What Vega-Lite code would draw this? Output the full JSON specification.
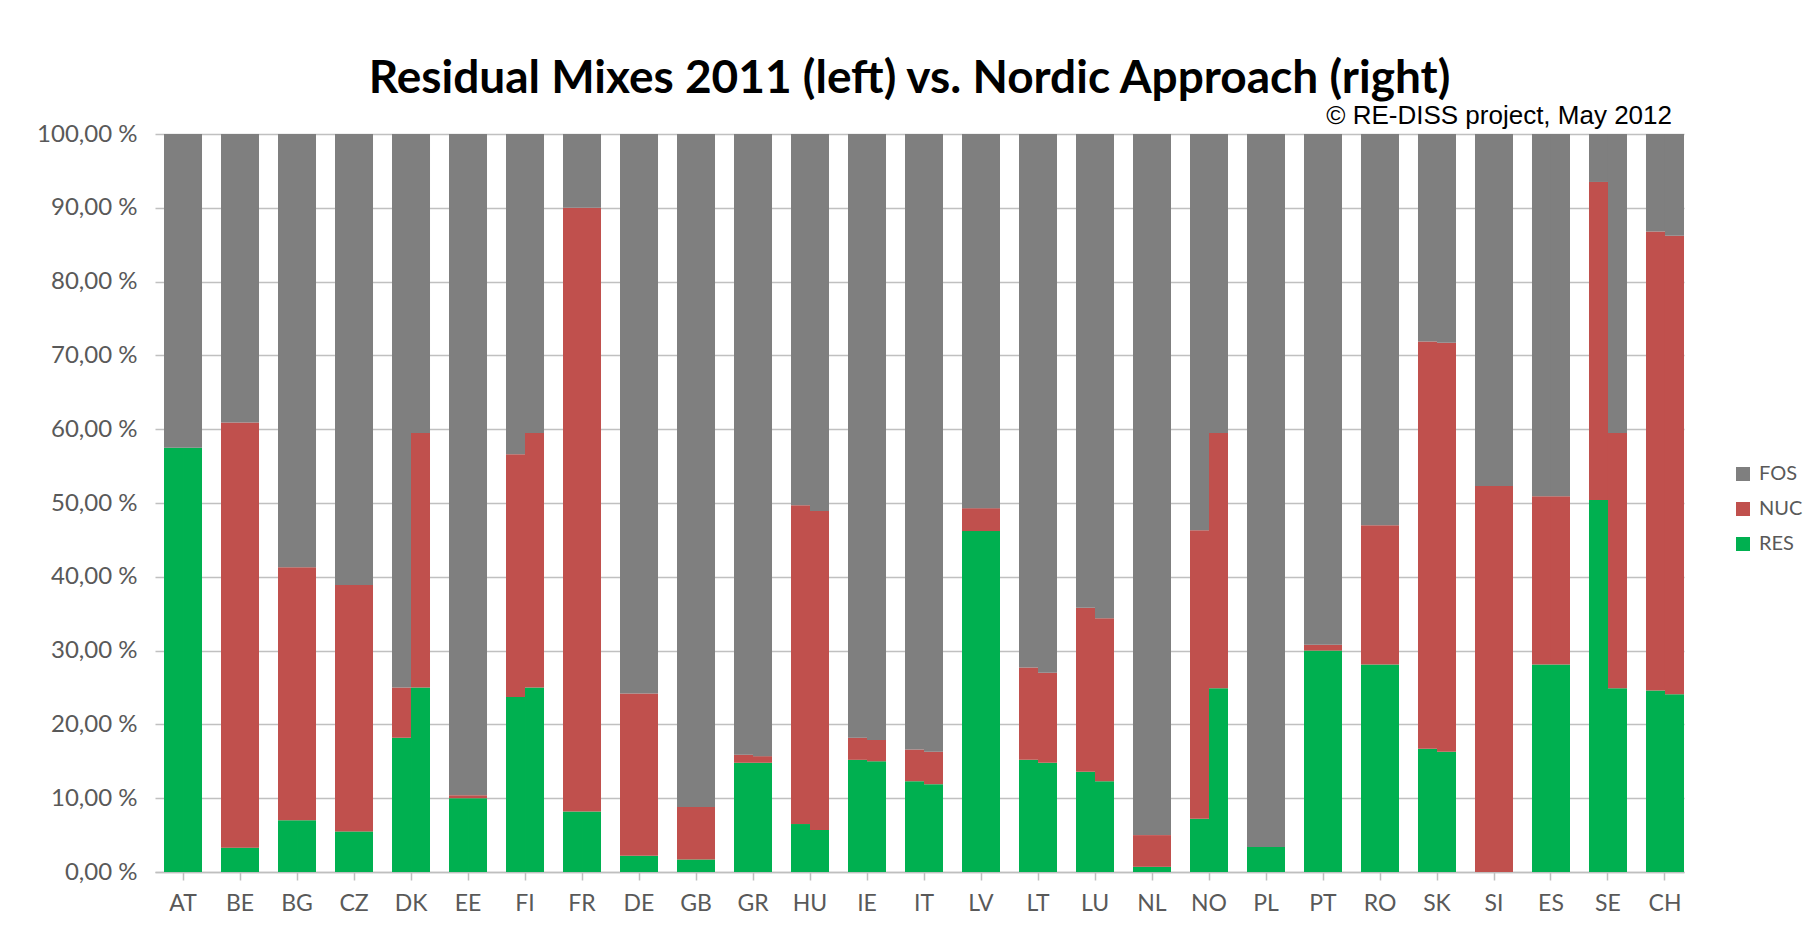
{
  "$schema": "https://vega.github.io/schema/vega-lite/v6.json",
  "width": 1529,
  "height": 738,
  "autosize": {"type": "none"},
  "padding": {"left": 155, "top": 134, "right": 136, "bottom": 68},
  "background": "white",
  "title": {
    "text": "Residual Mixes 2011 (left) vs. Nordic Approach (right)",
    "font": "Lato",
    "fontSize": 46,
    "fontWeight": "bold",
    "color": "#000000",
    "anchor": "middle",
    "dx": -10,
    "offset": 0
  },
  "config": {"view": {"stroke": null}, "font": "Lato"},
  "layer": [
    {
      "data": {
        "values": [
          {"country": "AT", "approach": "Residual Mix", "RES": 57.5, "NUC": 0, "FOS": 42.5},
          {"country": "AT", "approach": "Nordic", "RES": 57.5, "NUC": 0, "FOS": 42.5},
          {"country": "BE", "approach": "Residual Mix", "RES": 3.3, "NUC": 57.6, "FOS": 39.1},
          {"country": "BE", "approach": "Nordic", "RES": 3.3, "NUC": 57.6, "FOS": 39.1},
          {"country": "BG", "approach": "Residual Mix", "RES": 7.0, "NUC": 34.3, "FOS": 58.7},
          {"country": "BG", "approach": "Nordic", "RES": 7.0, "NUC": 34.3, "FOS": 58.7},
          {"country": "CZ", "approach": "Residual Mix", "RES": 5.5, "NUC": 33.4, "FOS": 61.1},
          {"country": "CZ", "approach": "Nordic", "RES": 5.5, "NUC": 33.4, "FOS": 61.1},
          {"country": "DK", "approach": "Residual Mix", "RES": 18.2, "NUC": 6.8, "FOS": 75.0},
          {"country": "DK", "approach": "Nordic", "RES": 25.0, "NUC": 34.5, "FOS": 40.5},
          {"country": "EE", "approach": "Residual Mix", "RES": 10.0, "NUC": 0.4, "FOS": 89.6},
          {"country": "EE", "approach": "Nordic", "RES": 10.0, "NUC": 0.4, "FOS": 89.6},
          {"country": "FI", "approach": "Residual Mix", "RES": 23.7, "NUC": 32.9, "FOS": 43.4},
          {"country": "FI", "approach": "Nordic", "RES": 25.0, "NUC": 34.5, "FOS": 40.5},
          {"country": "FR", "approach": "Residual Mix", "RES": 8.2, "NUC": 81.8, "FOS": 10.0},
          {"country": "FR", "approach": "Nordic", "RES": 8.2, "NUC": 81.8, "FOS": 10.0},
          {"country": "DE", "approach": "Residual Mix", "RES": 2.2, "NUC": 22.0, "FOS": 75.8},
          {"country": "DE", "approach": "Nordic", "RES": 2.2, "NUC": 22.0, "FOS": 75.8},
          {"country": "GB", "approach": "Residual Mix", "RES": 1.7, "NUC": 7.1, "FOS": 91.2},
          {"country": "GB", "approach": "Nordic", "RES": 1.7, "NUC": 7.1, "FOS": 91.2},
          {"country": "GR", "approach": "Residual Mix", "RES": 14.8, "NUC": 1.1, "FOS": 84.1},
          {"country": "GR", "approach": "Nordic", "RES": 14.8, "NUC": 0.9, "FOS": 84.3},
          {"country": "HU", "approach": "Residual Mix", "RES": 6.5, "NUC": 43.2, "FOS": 50.3},
          {"country": "HU", "approach": "Nordic", "RES": 5.7, "NUC": 43.2, "FOS": 51.1},
          {"country": "IE", "approach": "Residual Mix", "RES": 15.2, "NUC": 3.0, "FOS": 81.8},
          {"country": "IE", "approach": "Nordic", "RES": 15.0, "NUC": 2.9, "FOS": 82.1},
          {"country": "IT", "approach": "Residual Mix", "RES": 12.3, "NUC": 4.3, "FOS": 83.4},
          {"country": "IT", "approach": "Nordic", "RES": 11.9, "NUC": 4.4, "FOS": 83.7},
          {"country": "LV", "approach": "Residual Mix", "RES": 46.2, "NUC": 3.1, "FOS": 50.7},
          {"country": "LV", "approach": "Nordic", "RES": 46.2, "NUC": 3.1, "FOS": 50.7},
          {"country": "LT", "approach": "Residual Mix", "RES": 15.2, "NUC": 12.5, "FOS": 72.3},
          {"country": "LT", "approach": "Nordic", "RES": 14.8, "NUC": 12.2, "FOS": 73.0},
          {"country": "LU", "approach": "Residual Mix", "RES": 13.6, "NUC": 22.2, "FOS": 64.2},
          {"country": "LU", "approach": "Nordic", "RES": 12.3, "NUC": 22.1, "FOS": 65.6},
          {"country": "NL", "approach": "Residual Mix", "RES": 0.7, "NUC": 4.3, "FOS": 95.0},
          {"country": "NL", "approach": "Nordic", "RES": 0.7, "NUC": 4.3, "FOS": 95.0},
          {"country": "NO", "approach": "Residual Mix", "RES": 7.2, "NUC": 39.1, "FOS": 53.7},
          {"country": "NO", "approach": "Nordic", "RES": 24.9, "NUC": 34.6, "FOS": 40.5},
          {"country": "PL", "approach": "Residual Mix", "RES": 3.4, "NUC": 0, "FOS": 96.6},
          {"country": "PL", "approach": "Nordic", "RES": 3.4, "NUC": 0, "FOS": 96.6},
          {"country": "PT", "approach": "Residual Mix", "RES": 30.0, "NUC": 0.8, "FOS": 69.2},
          {"country": "PT", "approach": "Nordic", "RES": 30.0, "NUC": 0.8, "FOS": 69.2},
          {"country": "RO", "approach": "Residual Mix", "RES": 28.1, "NUC": 18.9, "FOS": 53.0},
          {"country": "RO", "approach": "Nordic", "RES": 28.1, "NUC": 18.9, "FOS": 53.0},
          {"country": "SK", "approach": "Residual Mix", "RES": 16.7, "NUC": 55.2, "FOS": 28.1},
          {"country": "SK", "approach": "Nordic", "RES": 16.3, "NUC": 55.4, "FOS": 28.3},
          {"country": "SI", "approach": "Residual Mix", "RES": 0, "NUC": 52.3, "FOS": 47.7},
          {"country": "SI", "approach": "Nordic", "RES": 0, "NUC": 52.3, "FOS": 47.7},
          {"country": "ES", "approach": "Residual Mix", "RES": 28.1, "NUC": 22.8, "FOS": 49.1},
          {"country": "ES", "approach": "Nordic", "RES": 28.1, "NUC": 22.8, "FOS": 49.1},
          {"country": "SE", "approach": "Residual Mix", "RES": 50.4, "NUC": 43.1, "FOS": 6.5},
          {"country": "SE", "approach": "Nordic", "RES": 24.9, "NUC": 34.6, "FOS": 40.5},
          {"country": "CH", "approach": "Residual Mix", "RES": 24.6, "NUC": 62.2, "FOS": 13.2},
          {"country": "CH", "approach": "Nordic", "RES": 24.1, "NUC": 62.1, "FOS": 13.8}
        ]
      },
      "transform": [{"fold": ["RES", "NUC", "FOS"], "as": ["source", "share"]}],
      "mark": {"type": "bar"},
      "encoding": {
        "x": {
          "field": "country",
          "type": "nominal",
          "scale": {
            "domain": ["AT","BE","BG","CZ","DK","EE","FI","FR","DE","GB","GR","HU","IE","IT","LV","LT","LU","NL","NO","PL","PT","RO","SK","SI","ES","SE","CH"],
            "paddingInner": 0.3333,
            "paddingOuter": 0.079,
            "align": 1
          },
          "axis": {
            "title": null,
            "labelAngle": 0,
            "labelFont": "Lato",
            "labelFontSize": 23,
            "labelColor": "#595959",
            "domainColor": "#bfbfbf",
            "domainWidth": 1.5,
            "tickColor": "#bfbfbf",
            "tickWidth": 1.5,
            "tickSize": 8,
            "labelPadding": 12,
            "grid": false
          }
        },
        "xOffset": {
          "field": "approach",
          "type": "nominal",
          "scale": {"domain": ["Residual Mix", "Nordic"], "paddingInner": 0, "paddingOuter": 0}
        },
        "y": {
          "field": "share",
          "type": "quantitative",
          "stack": "zero",
          "scale": {"domain": [0, 100], "nice": false},
          "axis": {
            "title": null,
            "values": [0, 10, 20, 30, 40, 50, 60, 70, 80, 90, 100],
            "labelExpr": "replace(format(datum.value, '.2f'), '.', ',') + ' %'",
            "domain": false,
            "ticks": false,
            "labelPadding": 18,
            "labelFont": "Lato",
            "labelFontSize": 24,
            "labelColor": "#595959",
            "gridColor": "#c0c0c0",
            "gridWidth": 1.5
          }
        },
        "color": {
          "field": "source",
          "type": "nominal",
          "scale": {"domain": ["FOS", "NUC", "RES"], "range": ["#7f7f7f", "#c0504d", "#00b050"]},
          "legend": {
            "title": null,
            "orient": "none",
            "legendX": 1578,
            "legendY": 330,
            "symbolType": "square",
            "symbolSize": 196,
            "symbolStrokeWidth": 0,
            "labelFont": "Lato",
            "labelFontSize": 20,
            "labelColor": "#595959",
            "labelOffset": 6,
            "rowPadding": 15
          }
        },
        "order": {"field": "source", "sort": "descending"}
      }
    },
    {
      "data": {"values": [{"note": "© RE-DISS project, May 2012"}]},
      "mark": {
        "type": "text",
        "font": "Liberation Sans",
        "fontSize": 26,
        "align": "right",
        "baseline": "alphabetic",
        "dx": 7,
        "dy": -10,
        "color": "#000000"
      },
      "encoding": {
        "x": {"datum": "CH", "type": "nominal"},
        "y": {"datum": 100, "type": "quantitative"},
        "text": {"field": "note", "type": "nominal"}
      }
    }
  ]
}
